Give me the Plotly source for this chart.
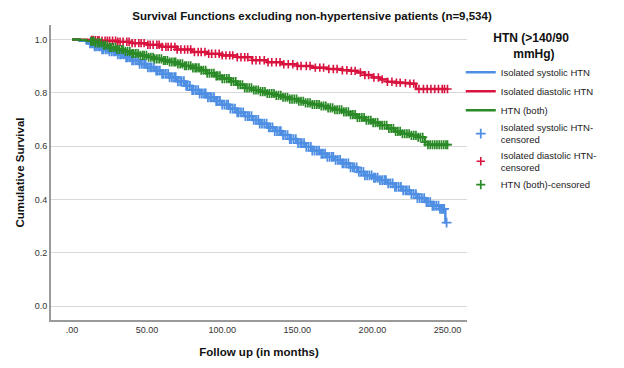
import numpy as np
import plotly.graph_objects as go

# Kaplan-Meier step curves (months, cumulative survival)
sys_t = [0, 5, 10, 15, 20, 25, 30, 35, 40, 45, 50, 55, 60, 65, 70, 75, 80, 85, 90, 95, 100,
         105, 110, 115, 120, 125, 130, 135, 140, 145, 150, 155, 160, 165, 170, 175, 180, 185,
         190, 195, 200, 205, 210, 215, 220, 225, 230, 235, 240, 245, 248, 248.6, 249.4]
sys_s = [1.0, 0.995, 0.985, 0.974, 0.963, 0.955, 0.944, 0.933, 0.921, 0.908, 0.895, 0.883,
         0.871, 0.858, 0.843, 0.826, 0.810, 0.797, 0.783, 0.769, 0.755, 0.740, 0.726, 0.712,
         0.698, 0.684, 0.670, 0.656, 0.641, 0.626, 0.611, 0.597, 0.583, 0.571, 0.559, 0.548,
         0.535, 0.520, 0.503, 0.490, 0.481, 0.472, 0.460, 0.447, 0.434, 0.420, 0.405, 0.390,
         0.376, 0.364, 0.358, 0.313, 0.313]

dia_t = [0, 5, 10, 15, 20, 30, 40, 50, 60, 70, 80, 90, 100, 110, 120, 130, 140, 150, 160,
         170, 180, 185, 190, 195, 200, 205, 210, 215, 220, 225, 229, 250.3]
dia_s = [1.0, 0.999, 0.998, 0.997, 0.995, 0.991, 0.986, 0.980, 0.972, 0.962, 0.953, 0.946,
         0.940, 0.933, 0.922, 0.914, 0.907, 0.900, 0.894, 0.889, 0.884, 0.882, 0.876, 0.866,
         0.857, 0.850, 0.841, 0.838, 0.836, 0.834, 0.814, 0.814]

both_t = [0, 5, 10, 15, 20, 25, 30, 35, 40, 45, 50, 55, 60, 65, 70, 75, 80, 85, 90, 95, 100,
          105, 110, 115, 120, 125, 130, 135, 140, 145, 150, 155, 160, 165, 170, 175, 180, 185,
          190, 195, 200, 205, 210, 215, 220, 225, 230, 235, 237, 250.3]
both_s = [1.0, 0.998, 0.993, 0.987, 0.978, 0.970, 0.962, 0.955, 0.947, 0.940, 0.933, 0.927,
          0.921, 0.915, 0.908, 0.901, 0.893, 0.884, 0.873, 0.863, 0.853, 0.842, 0.830, 0.818,
          0.810, 0.804, 0.797, 0.790, 0.783, 0.776, 0.768, 0.762, 0.756, 0.750, 0.743, 0.736,
          0.728, 0.718, 0.707, 0.697, 0.688, 0.678, 0.666, 0.655, 0.646, 0.640, 0.633, 0.615,
          0.605, 0.605]

# censoring times (months)
sys_cens = [12, 13, 14, 15, 16, 17.5, 18.5, 20, 21, 22.5, 24, 25, 26.5, 28, 29, 30.5, 32, 33,
            34.5, 36, 37, 38.5, 40, 41, 42.5, 44, 45, 46.5, 48, 49, 50.5, 52, 53, 54.5, 56, 57,
            58.5, 60, 61, 62.5, 64, 65, 66.5, 68, 69, 70.5, 72, 73, 74.5, 76, 77, 78.5, 80, 81,
            82.5, 84, 85, 86.5, 88, 89, 90.5, 92, 93, 94.5, 96, 97, 98.5, 100, 101.5, 103, 104,
            105.5, 107, 108.5, 110, 111, 112.5, 114, 115.5, 117, 118, 119.5, 121, 122.5, 124,
            125, 126.5, 128, 129.5, 131, 132, 133.5, 135, 136.5, 138, 139, 140.5, 142, 143.5,
            145, 146, 147.5, 149, 150.5, 152, 153, 154.5, 156, 157.5, 159, 160, 161.5, 163,
            164.5, 166, 167, 168.5, 170, 171.5, 173, 174, 175.5, 177, 178.5, 180, 181, 182.5,
            184, 185.5, 187, 188, 189.5, 191, 192.5, 194, 195, 196.5, 198, 199.5, 201, 202,
            203.5, 205, 206.5, 208, 209, 210.5, 212, 213.5, 215, 216, 217.5, 219, 220.5, 222,
            223, 224.5, 226, 227.5, 229, 230, 231.5, 233, 234.5, 236, 237, 238.5, 240, 241,
            242.5, 244, 245, 246, 247, 247.8, 249.4]
dia_cens = [13, 14, 15.5, 17, 18, 20, 22, 23.5, 25, 27, 29, 30.5, 32, 34, 36.5, 38, 40, 42,
            44.5, 46, 48, 50.5, 52, 54, 56.5, 58, 60, 62.5, 64, 66, 68.5, 70, 72.5, 75, 77, 79,
            81.5, 84, 86, 88.5, 91, 93, 95.5, 98, 100, 102.5, 105, 107, 110, 112.5, 115, 117,
            120, 122.5, 125, 128, 130.5, 133, 136, 138.5, 141, 144, 147, 150, 152.5, 156,
            158.5, 162, 165, 167.5, 171, 174, 176.5, 180, 183, 186, 188.5, 192, 195, 197.5,
            201, 204, 206.5, 210, 213, 216, 218.5, 222, 225, 227.5, 231, 234, 236.5, 239,
            241.5, 244, 246.5, 248, 250]
both_cens = [12.5, 13.5, 14.5, 15.5, 17, 18, 19.5, 21, 22, 23.5, 25, 26, 27.5, 29, 30,
             31.5, 33, 34, 35.5, 37, 38.5, 40, 41, 42.5, 44, 45.5, 47, 48, 49.5, 51, 52.5,
             54, 55, 56.5, 58, 59.5, 61, 62, 63.5, 65, 66.5, 68, 69, 70.5, 72, 73.5, 75, 76,
             77.5, 79, 80.5, 82, 83, 84.5, 86, 87.5, 89, 90, 91.5, 93, 94.5, 96, 97, 98.5,
             100, 101.5, 103, 104.5, 106, 107.5, 109, 110.5, 112, 113.5, 115, 116.5, 118,
             119.5, 121, 122.5, 124, 125.5, 127, 128.5, 130, 131.5, 133, 134.5, 136, 137.5,
             139, 140.5, 142, 143.5, 145, 146.5, 148, 149.5, 151, 152.5, 154, 155.5, 157,
             158.5, 160, 161.5, 163, 164.5, 166, 167.5, 169, 170.5, 172, 173.5, 175, 176.5,
             178, 179.5, 181, 182.5, 184, 185.5, 187, 188.5, 190, 191.5, 193, 194.5, 196,
             197.5, 199, 200.5, 202, 203.5, 205, 206.5, 208, 209.5, 211, 212.5, 214, 215.5,
             217, 218.5, 220, 221.5, 223, 224.5, 226, 227.5, 229, 230.5, 232, 233.5, 235,
             237, 238.5, 240, 241.5, 243, 244.5, 246, 247.5, 249, 250]

x_tickvals = [0, 50, 100, 150, 200, 250]
x_ticktext = [".00", "50.00", "100.00", "150.00", "200.00", "250.00"]
y_tickvals = [0.0, 0.2, 0.4, 0.6, 0.8, 1.0]
y_ticktext = ["0.0", "0.2", "0.4", "0.6", "0.8", "1.0"]

BLUE = "#4F8FE3"
RED = "#D9133F"
GREEN = "#2A8A27"


def step_value(times, surv, q):
    t = np.asarray(times)
    s = np.asarray(surv)
    idx = np.searchsorted(t, np.asarray(q), side="right") - 1
    return s[np.clip(idx, 0, len(s) - 1)]


fig = go.Figure()

curves = [
    ("Isolated systolic HTN", sys_t, sys_s, BLUE),
    ("Isolated diastolic HTN", dia_t, dia_s, RED),
    ("HTN (both)", both_t, both_s, GREEN),
]
for name, t, s, col in curves:
    fig.add_trace(go.Scatter(x=t, y=s, mode="lines", line=dict(color=col, width=2.5, shape="hv"),
                             name=name, legendrank=1))

cens = [
    ("Isolated systolic HTN-<br>censored", sys_t, sys_s, sys_cens, BLUE, 7, 1.8),
    ("Isolated diastolic HTN-<br>censored", dia_t, dia_s, dia_cens, RED, 6, 1.6),
    ("HTN (both)-censored", both_t, both_s, both_cens, GREEN, 6.5, 1.7),
]
for name, t, s, ct, col, sz, lw in cens:
    fig.add_trace(go.Scatter(x=ct, y=step_value(t, s, ct), mode="markers",
                             marker=dict(symbol="cross-thin", size=sz,
                                         line=dict(color=col, width=lw)),
                             name=name, legendrank=2))

fig.update_layout(
    width=624, height=368,
    paper_bgcolor="white", plot_bgcolor="white",
    margin=dict(l=51, r=157, t=25, b=48, autoexpand=False),
    font=dict(family="Liberation Sans, Arial, sans-serif", color="#222"),
    title=dict(text="<b>Survival Functions excluding non-hypertensive patients (n=9,534)</b>",
               x=0.5, xanchor="center", y=0.957, yanchor="middle",
               font=dict(size=11.5, color="#111")),
    xaxis=dict(range=[-14, 263], tickvals=x_tickvals, ticktext=x_ticktext, automargin=False,
               showgrid=False, zeroline=False, showline=True, linecolor="#9a9a9a",
               linewidth=2, ticks="", tickfont=dict(size=9, color="#333"),
               title=dict(text="<b>Follow up (in months)</b>", font=dict(size=11.5, color="#111"),
                          standoff=14)),
    yaxis=dict(range=[-0.0525, 1.054], tickvals=y_tickvals, ticktext=y_ticktext, automargin=False,
               showgrid=True, gridcolor="#d9d9d9", gridwidth=1.2, zeroline=False,
               showline=True, linecolor="#9a9a9a", linewidth=2, ticks="",
               tickfont=dict(size=9, color="#333"),
               title=dict(text="<b>Cumulative Survival</b>", font=dict(size=11.5, color="#111"),
                          standoff=8)),
    legend=dict(x=0.985, xanchor="left", y=0.995, yanchor="top",
                font=dict(size=9.5, color="#222"), tracegroupgap=0,
                itemwidth=30, bgcolor="rgba(0,0,0,0)",
                title=dict(text="<b>HTN (>140/90<br>&nbsp;&nbsp;&nbsp;&nbsp;&nbsp;&nbsp;mmHg)</b>",
                           side="top center", font=dict(size=12, color="#111"))),
    showlegend=True,
)

fig.write_html("out.html", config={"displayModeBar": False},
               post_script="document.body.style.margin='0';")
